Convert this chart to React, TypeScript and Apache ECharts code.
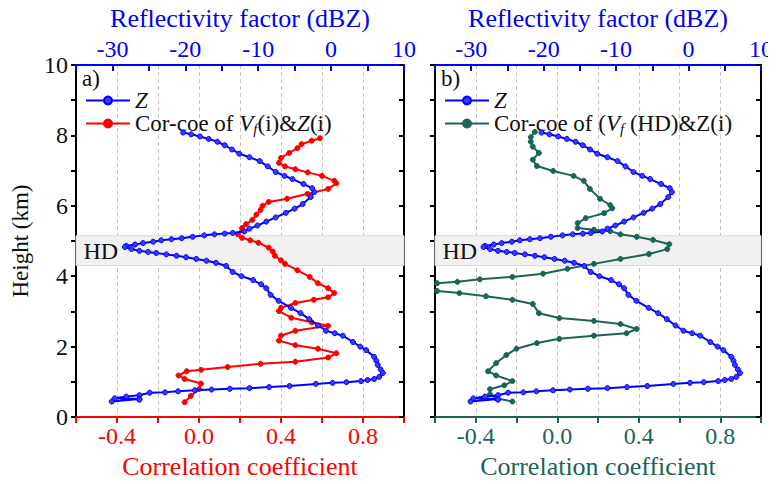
import React, { useEffect, useRef } from "react";
import * as echarts from "echarts";

// ---------- data ----------
// Reflectivity profile Z (dBZ) vs height (km) — same in both panels
const zDbz = [
  -20.3, -19.2, -18.0, -16.8, -15.6, -14.6, -13.6, -12.6, -11.2, -9.8, -8.7, -7.6, -6.4, -5.3, -3.8, -2.6, -2.3, -2.8,
  -3.9, -5.0, -6.2, -7.6, -8.9, -10.1, -11.2, -11.9, -13.5, -14.6, -16.0, -17.4, -19.0, -20.5, -21.9, -23.3, -24.4,
  -25.8, -26.9, -28.1, -28.3, -27.4, -26.3, -25.1, -24.0, -22.6, -21.2, -19.9, -18.5, -17.1, -15.8, -14.4, -13.5,
  -12.3, -10.7, -9.6, -8.9, -8.3, -7.2, -5.5, -4.2, -3.0, -1.8, -0.7, 0.5, 1.6, 3.0, 4.0, 4.8, 5.9, 6.2, 6.4, 6.8,
  7.1, 6.6, 5.9, 5.0, 4.1, 2.1, 0.2, -2.1, -5.7, -8.5, -11.2, -13.9, -16.4, -18.7, -21.0, -22.8, -24.9, -26.3, -28.1,
  -29.7, -26.3, -26.3, -30.1,
];
const zHeight = [
  8.08, 8.03, 7.97, 7.9, 7.82, 7.72, 7.6, 7.48, 7.38, 7.27, 7.12, 6.96, 6.85, 6.76, 6.62, 6.5, 6.39, 6.25,
  6.05, 5.92, 5.8, 5.67, 5.55, 5.44, 5.35, 5.27, 5.23, 5.21, 5.19, 5.16, 5.12, 5.08, 5.05, 5.02, 4.98,
  4.94, 4.9, 4.86, 4.83, 4.77, 4.72, 4.69, 4.66, 4.62, 4.58, 4.54, 4.49, 4.44, 4.38, 4.29, 4.12,
  4.0, 3.89, 3.77, 3.66, 3.47, 3.3, 3.1, 2.95, 2.78, 2.6, 2.45, 2.38, 2.31, 2.13, 2.0, 1.9, 1.71, 1.6, 1.48, 1.35,
  1.25, 1.14, 1.08, 1.05, 1.02, 0.99, 0.97, 0.94, 0.88, 0.85, 0.82, 0.8, 0.78, 0.76, 0.73, 0.7, 0.69, 0.62, 0.58,
  0.53, 0.51, 0.49, 0.44,
];

// (a) correlation of Vf(i) & Z(i)
const corrA = [
  0.59, 0.55, 0.5, 0.48, 0.44, 0.4, 0.39, 0.42, 0.47, 0.53, 0.6, 0.66, 0.67, 0.63, 0.53, 0.43, 0.34, 0.31, 0.3, 0.28,
  0.26, 0.23, 0.21, 0.19, 0.21, 0.25, 0.29, 0.34, 0.36, 0.37, 0.4, 0.42, 0.48, 0.54, 0.58, 0.63, 0.66, 0.63, 0.56,
  0.47, 0.4, 0.39, 0.45, 0.55, 0.63, 0.47, 0.4, 0.39, 0.47, 0.58, 0.67, 0.63, 0.47, 0.3, 0.14, 0.01, -0.06, -0.1,
  -0.07, 0.01, 0.0, -0.04, -0.07,
];
const corrAHeight = [
  7.92, 7.85, 7.75, 7.64, 7.5, 7.36, 7.22, 7.12, 7.04, 6.95, 6.85, 6.71, 6.64, 6.48, 6.34, 6.2, 6.11, 6.0, 5.88, 5.75,
  5.6, 5.48, 5.37, 5.19, 5.09, 5.02, 4.95, 4.81, 4.7, 4.58, 4.45, 4.35, 4.17, 3.98, 3.8, 3.66, 3.52, 3.4, 3.33,
  3.24, 3.1, 3.01, 2.82, 2.69, 2.59, 2.45, 2.31, 2.17, 2.04, 1.94, 1.81, 1.69, 1.57, 1.51, 1.42, 1.34, 1.3, 1.18,
  1.08, 0.95, 0.79, 0.6, 0.42,
];

// (b) correlation of Vf(HD) & Z(i)
const corrB = [
  -0.11, -0.13, -0.13, -0.12, -0.09, -0.12, -0.1, -0.02, 0.08, 0.13, 0.16, 0.21, 0.26, 0.27, 0.23, 0.14, 0.1, 0.1,
  0.18, 0.26, 0.31, 0.39, 0.47, 0.55, 0.54, 0.45, 0.31, 0.18, 0.05, -0.07, -0.22, -0.38, -0.49, -0.59, -0.66, -0.59,
  -0.48, -0.35, -0.22, -0.12, -0.09, 0.01, 0.18, 0.31, 0.39, 0.34, 0.18, 0.01, -0.1, -0.2, -0.25, -0.3, -0.34, -0.3,
  -0.22, -0.26, -0.33, -0.33, -0.3, -0.22,
];
const corrBHeight = [
  8.1, 7.95, 7.82, 7.68, 7.5, 7.31, 7.13, 6.99, 6.85, 6.71, 6.48, 6.2, 6.02, 5.93, 5.79, 5.65, 5.51, 5.37,
  5.32, 5.28, 5.19, 5.12, 5.03, 4.91, 4.77, 4.63, 4.49, 4.35, 4.21, 4.07, 3.98, 3.91, 3.84, 3.8, 3.7, 3.58,
  3.52, 3.43, 3.33, 3.21, 2.95, 2.81, 2.73, 2.64, 2.5, 2.38, 2.31, 2.22, 2.1, 1.94, 1.76, 1.53, 1.3, 1.18,
  1.02, 0.9, 0.79, 0.65, 0.53, 0.44,
];

const hdBand = [4.3, 5.15];
const corrTickLabels = [-0.4, 0, 0.4, 0.8];
const dbzTickLabels = [-30, -20, -10, 0, 10];
const heightTickLabels = [0, 2, 4, 6, 8, 10];

// ---------- styling ----------
const FONT = "Liberation Serif";
const BLUE = "#0000ff";
const RED = "#ff0000";
const TEAL = "#1b6458";

const pairs = (xs: number[], ys: number[]) => xs.map((x, i) => [x, ys[i]]);

export default function App() {
  const ref = useRef<HTMLDivElement>(null);

  useEffect(() => {
    if (!ref.current) return;
    const chart = echarts.init(ref.current, null, { renderer: "svg" });

    const panels = [
      { left: 76, color: RED, corr: pairs(corrA, corrAHeight), tag: "a)" },
      { left: 435, color: TEAL, corr: pairs(corrB, corrBHeight), tag: "b)" },
    ];
    const W = 328;
    const H = 360;
    const TOP = 65;

    const grids: any[] = [];
    const xAxes: any[] = [];
    const yAxes: any[] = [];
    const series: any[] = [];
    const legends: any[] = [];
    const graphics: any[] = [];

    const rich = {
      n: { fontSize: 23, fontFamily: FONT, color: "#111", lineHeight: 26 },
      i: { fontSize: 23, fontFamily: FONT, fontStyle: "italic", color: "#111", lineHeight: 26 },
      s: { fontSize: 15, fontFamily: FONT, fontStyle: "italic", color: "#111", lineHeight: 26, verticalAlign: "bottom" },
    };

    panels.forEach((p, k) => {
      grids.push({ left: p.left, top: TOP, width: W, height: H, containLabel: false });
      xAxes.push({
        type: "value",
        gridIndex: k,
        position: "bottom",
        min: -0.6,
        max: 1.0,
        interval: 0.2,
        name: "Correlation coefficient",
        nameLocation: "middle",
        nameGap: 36,
        nameTextStyle: { color: p.color, fontFamily: FONT, fontSize: 26 },
        axisLine: { show: true, onZero: false, lineStyle: { color: p.color, width: 2 } },
        axisTick: { show: true, inside: false, length: 6, lineStyle: { color: p.color, width: 2 } },
        axisLabel: {
          color: p.color,
          fontFamily: FONT,
          fontSize: 24,
          margin: 7,
          formatter: (v: number) => {
            const r = Math.round(v * 10) / 10;
            return corrTickLabels.some((t) => Math.abs(t - r) < 1e-6) ? r.toFixed(1) : "";
          },
        },
        splitLine: { show: true, lineStyle: { color: "#b5b5b5", type: [4, 3], width: 0.8 } },
      });
      xAxes.push({
        type: "value",
        gridIndex: k,
        position: "top",
        min: -35,
        max: 10,
        interval: 5,
        name: "Reflectivity factor (dBZ)",
        nameLocation: "middle",
        nameGap: 34,
        nameTextStyle: { color: BLUE, fontFamily: FONT, fontSize: 26 },
        axisLine: { show: true, onZero: false, lineStyle: { color: BLUE, width: 2 } },
        axisTick: { show: true, inside: true, length: 6, lineStyle: { color: BLUE, width: 2 } },
        axisLabel: {
          color: BLUE,
          fontFamily: FONT,
          fontSize: 24,
          margin: 4,
          formatter: (v: number) => (dbzTickLabels.includes(Math.round(v)) ? String(Math.round(v)) : ""),
        },
        splitLine: { show: false },
      });
      yAxes.push({
        type: "value",
        gridIndex: k,
        position: "left",
        min: 0,
        max: 10,
        interval: 1,
        name: k === 0 ? "Height (km)" : "",
        nameLocation: "middle",
        nameGap: 44,
        nameTextStyle: { color: "#111", fontFamily: FONT, fontSize: 23 },
        axisLine: { show: true, onZero: false, lineStyle: { color: "#000", width: 2 } },
        axisTick: { show: true, inside: false, length: 5, lineStyle: { color: "#000", width: 2 } },
        axisLabel: {
          show: k === 0,
          color: "#111",
          fontFamily: FONT,
          fontSize: 24,
          margin: 8,
          formatter: (v: number) => (heightTickLabels.includes(Math.round(v)) ? String(Math.round(v)) : ""),
        },
        splitLine: { show: false },
      });
      yAxes.push({
        type: "value",
        gridIndex: k,
        position: "right",
        min: 0,
        max: 10,
        interval: 1,
        axisLine: { show: true, onZero: false, lineStyle: { color: "#000", width: 2 } },
        axisTick: { show: true, inside: true, length: 5, lineStyle: { color: "#000", width: 2 } },
        axisLabel: { show: false },
        splitLine: { show: false },
      });

      const xb = k * 2;
      const xt = k * 2 + 1;
      const yl = k * 2;
      const zName = "Z" + k;
      const cName = "C" + k;

      series.push({
        type: "line",
        name: "band" + k,
        xAxisIndex: xb,
        yAxisIndex: yl,
        data: [],
        z: 1,
        silent: true,
        markArea: {
          silent: true,
          itemStyle: { color: "#f1f1f1", borderColor: "#d6d6d6", borderWidth: 1 },
          label: {
            show: true,
            position: "insideLeft",
            distance: 8,
            formatter: "HD",
            color: "#111",
            fontFamily: FONT,
            fontSize: 24,
          },
          data: [[{ yAxis: hdBand[0] }, { yAxis: hdBand[1] }]],
        },
      });
      series.push({
        type: "line",
        name: cName,
        xAxisIndex: xb,
        yAxisIndex: yl,
        data: p.corr,
        z: 3,
        symbol: "circle",
        symbolSize: 5,
        showAllSymbol: true,
        lineStyle: { color: p.color, width: 2 },
        itemStyle: { color: p.color, borderColor: p.color, borderWidth: 1 },
      });
      series.push({
        type: "line",
        name: zName,
        xAxisIndex: xt,
        yAxisIndex: yl,
        data: pairs(zDbz, zHeight),
        z: 4,
        symbol: "circle",
        symbolSize: 5,
        showAllSymbol: true,
        lineStyle: { color: BLUE, width: 2 },
        itemStyle: { color: "#3a3aff", borderColor: BLUE, borderWidth: 1 },
      });

      legends.push({
        orient: "vertical",
        left: p.left + 4,
        top: 84,
        itemGap: 0,
        itemWidth: 44,
        itemHeight: 10,
        data: [zName, cName],
        textStyle: { fontFamily: FONT, rich },
        formatter: (name: string) => {
          if (name.startsWith("Z")) return "{i|Z}";
          return k === 0
            ? "{n|Cor-coe of }{i|V}{s|f}{n|(i)&}{i|Z}{n|(i)}"
            : "{n|Cor-coe of (}{i|V}{s|f}{n| (HD)&Z(i)}";
        },
        selectedMode: false,
      });

      graphics.push({
        type: "text",
        left: p.left + 6,
        top: 67,
        style: { text: p.tag, fontFamily: FONT, fontSize: 23, fill: "#111" },
        z: 10,
      });
    });

    chart.setOption({
      animation: false,
      backgroundColor: "#ffffff",
      textStyle: { fontFamily: FONT },
      grid: grids,
      xAxis: xAxes,
      yAxis: yAxes,
      series,
      legend: legends,
      graphic: graphics,
    });

    return () => chart.dispose();
  }, []);

  return <div ref={ref} style={{ width: 776, height: 484, margin: -8 }} />;
}
